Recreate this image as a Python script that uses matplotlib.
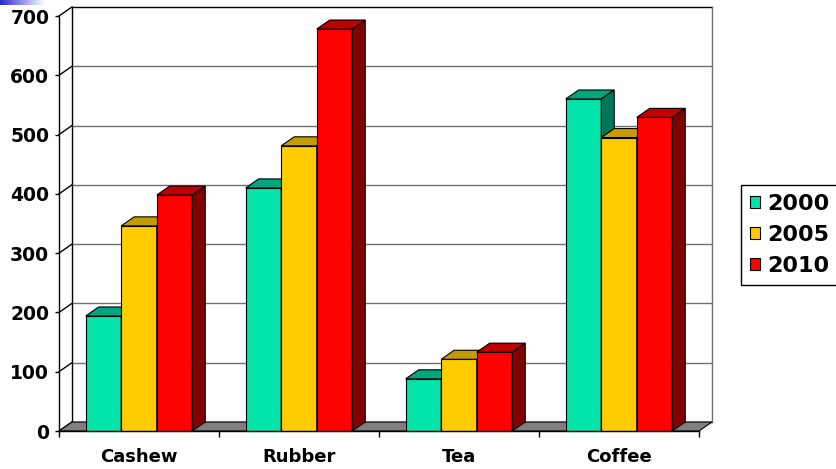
import numpy as np
import matplotlib.pyplot as plt
from matplotlib.patches import Polygon, Rectangle
from matplotlib.colors import LinearSegmentedColormap

plt.rcParams["font.family"] = ["DejaVu Sans"]
plt.rcParams["font.weight"] = "bold"

# Data.
categories = ["Cashew", "Rubber", "Tea", "Coffee"]
years = ["2000", "2005", "2010"]
v2000 = [194, 410, 88, 560]
v2005 = [346, 481, 121, 495]
v2010 = [398, 678, 133, 529]
yticks = [0, 100, 200, 300, 400, 500, 600, 700]

series = [v2000, v2005, v2010]
front_colors = ["#00E3A9", "#FFCC00", "#FF0000"]
top_colors = ["#00A67E", "#C49C00", "#C00000"]
side_colors = ["#007858", "#8C6E00", "#800000"]

W, H = 836, 469
fig = plt.figure(figsize=(W / 100, H / 100), dpi=100)
ax = fig.add_axes([59 / W, 38 / H, 640 / W, 415 / H])
ax.set_xlim(-0.5, len(categories) - 0.5)
ax.set_ylim(0, 700)

# 3D depth offset in data units.
dx = 0.081
dy = 15.2
x_left, x_right = -0.5, len(categories) - 0.5

# Back wall gridlines and side wall diagonals.
for v in yticks:
    col = "black" if v == yticks[-1] else "#707070"
    ax.plot([x_left + dx, x_right + dx], [v + dy, v + dy], color=col, lw=1.0,
            clip_on=False, zorder=1)
    ax.plot([x_left, x_left + dx], [v, v + dy], color="black", lw=1.0,
            clip_on=False, zorder=1)
ax.plot([x_left + dx] * 2, [dy, yticks[-1] + dy], color="black", lw=1.0,
        clip_on=False, zorder=1)
ax.plot([x_right + dx] * 2, [dy, yticks[-1] + dy], color="#707070", lw=1.0,
        clip_on=False, zorder=1)

# Floor.
floor = Polygon([(x_left, 0), (x_right, 0), (x_right + dx, dy), (x_left + dx, dy)],
                closed=True, fc="#808080", ec="black", lw=0.8, zorder=2,
                clip_on=False)
ax.add_patch(floor)

# Bars: front, top, side faces.
w = 0.222
z = 3
for c in range(len(categories)):
    for i, vals in enumerate(series):
        v = vals[c]
        xc = c + (i - 1) * w
        x0, x1 = xc - w / 2, xc + w / 2
        ax.bar(xc, v, width=w, color=front_colors[i], edgecolor="black",
               lw=0.8, zorder=z, clip_on=False)
        top = Polygon([(x0, v), (x1, v), (x1 + dx, v + dy), (x0 + dx, v + dy)],
                      closed=True, fc=top_colors[i], ec="black", lw=0.8,
                      zorder=z, clip_on=False)
        side = Polygon([(x1, 0), (x1, v), (x1 + dx, v + dy), (x1 + dx, dy)],
                       closed=True, fc=side_colors[i], ec="black", lw=0.8,
                       zorder=z, clip_on=False)
        ax.add_patch(top)
        ax.add_patch(side)
        z += 1

# Axes styling.
ax.spines["top"].set_visible(False)
ax.spines["right"].set_visible(False)
ax.spines["left"].set_linewidth(1.0)
ax.spines["bottom"].set_linewidth(1.0)
ax.spines["left"].set_zorder(50)
ax.spines["bottom"].set_zorder(50)

ax.set_yticks(yticks)
ax.set_yticklabels([str(t) for t in yticks], fontsize=13.5, fontweight="bold")
ax.tick_params(axis="y", direction="out", length=3, width=1, pad=4)

ax.set_xticks(range(len(categories)))
ax.set_xticklabels(categories, fontsize=13, fontweight="bold")
ax.tick_params(axis="x", which="major", length=0, pad=12)
ax.set_xticks(np.arange(-0.5, len(categories), 1.0), minor=True)
ax.tick_params(axis="x", which="minor", direction="out", length=4, width=1)

# Legend.
handles = [Rectangle((0, 0), 1, 1, fc=front_colors[i], ec="black", lw=0.8)
           for i in range(len(years))]
leg = fig.legend(handles, years, loc="upper left",
                 bbox_to_anchor=(741 / W, 1 - 185 / H), borderaxespad=0,
                 frameon=True, fancybox=False, edgecolor="black", framealpha=1,
                 handlelength=0.47, handleheight=0.47, handletextpad=0.3,
                 borderpad=0.4, labelspacing=0.5,
                 prop={"size": 16, "weight": "bold"})
leg.get_frame().set_linewidth(1.0)

# Small blue gradient strip in the top-left corner.
gax = fig.add_axes([0, 1 - 5 / H, 45 / W, 5 / H])
strip = LinearSegmentedColormap.from_list("strip", ["#2a2ad0", "#ffffff"])
gax.imshow(np.linspace(0, 1, 100)[None, :], cmap=strip, aspect="auto")
gax.axis("off")

fig.savefig("out.png", dpi=100)
